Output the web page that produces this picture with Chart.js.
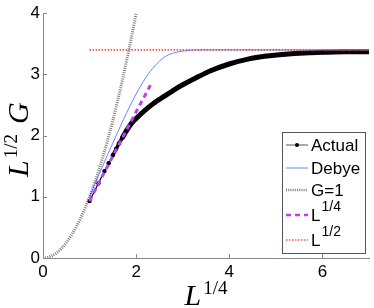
<!DOCTYPE html>
<html>
<head>
<meta charset="utf-8">
<script src="https://cdn.jsdelivr.net/npm/chart.js@4.4.0/dist/chart.umd.min.js"></script>
<style>
  body { margin: 0; background: #fff; }
</style>
</head>
<body>
<canvas id="chart" width="374" height="308"></canvas>
<script>
// values
var actualX = [1.00, 1.19, 1.32, 1.41, 1.50, 1.57, 1.63, 1.70, 1.80, 1.90, 2.00, 2.20, 2.40, 2.60, 2.80, 3.00, 3.30, 3.60, 4.00, 4.40, 4.80, 5.20, 5.60, 6.00, 6.50, 7.00];
var actualY = [0.93, 1.22, 1.42, 1.55, 1.68, 1.78, 1.87, 1.96, 2.09, 2.20, 2.28, 2.42, 2.54, 2.64, 2.74, 2.83, 2.95, 3.06, 3.17, 3.25, 3.30, 3.33, 3.35, 3.36, 3.37, 3.37];

var debyeX = [1.0, 1.2, 1.4, 1.6, 1.8, 2.0, 2.2, 2.4, 2.6, 2.8, 3.0, 3.3, 7.0];
var debyeY = [1.00, 1.36, 1.71, 2.05, 2.38, 2.68, 2.94, 3.14, 3.28, 3.35, 3.38, 3.40, 3.40];

var g1X = [0, 0.1, 0.2, 0.3, 0.4, 0.5, 0.6, 0.7, 0.8, 0.9, 1.0, 1.1, 1.2, 1.3, 1.4, 1.5, 1.6, 1.7, 1.8, 1.9, 2.0];
var g1Y = [0, 0.01, 0.04, 0.09, 0.16, 0.25, 0.36, 0.49, 0.64, 0.81, 1.00, 1.21, 1.44, 1.69, 1.96, 2.25, 2.56, 2.89, 3.24, 3.61, 4.00];

var quarterX = [1.0, 1.2, 1.4, 1.6, 1.8, 2.0, 2.2, 2.31];
var quarterY = [0.93, 1.23, 1.52, 1.81, 2.10, 2.39, 2.67, 2.83];

var halfX = [1.0, 7.0];
var halfY = [3.40, 3.40];

var xTicks = [0, 2, 4, 6];
var yTicks = [0, 1, 2, 3, 4];

var legendNames = [['Actual', ''], ['Debye', ''], ['G=1', ''], ['L', '1/4'], ['L', '1/2']];

function pts(xs, ys) {
    return xs.map(function (x, i) { return { x: x, y: ys[i] }; });
}

var sans = '"Liberation Sans", Arial, sans-serif';
var serif = '"Liberation Serif", "Times New Roman", serif';

// draws a run of text pieces (with superscripts), returns its width
function mathRun(c, parts, x, y, measureOnly) {
    var w = 0;
    parts.forEach(function (p) {
        c.font = p.font;
        w += p.gap || 0;
        if (!measureOnly) c.fillText(p.t, x + w, y + (p.dy || 0));
        w += c.measureText(p.t).width;
    });
    return w;
}

var extras = {
    id: 'extras',
    afterDraw: function (chart) {
        var c = chart.ctx, xs = chart.scales.x, ys = chart.scales.y;
        c.save();

        // inward tick marks
        c.strokeStyle = '#888';
        c.lineWidth = 1;
        c.beginPath();
        xTicks.forEach(function (v) {
            var p = Math.round(xs.getPixelForValue(v)) + 0.5;
            c.moveTo(p, ys.bottom);
            c.lineTo(p, ys.bottom - 4);
        });
        yTicks.forEach(function (v) {
            var p = Math.round(ys.getPixelForValue(v)) + 0.5;
            c.moveTo(xs.left, p);
            c.lineTo(xs.left + 4, p);
        });
        c.stroke();

        // axis titles
        c.fillStyle = '#000';
        c.textBaseline = 'alphabetic';
        var xt = [
            { t: 'L', font: 'italic 30px ' + serif },
            { t: '1/4', font: '19px ' + serif, dy: -11, gap: 2 }
        ];
        var w = mathRun(c, xt, 0, 0, true);
        mathRun(c, xt, (xs.left + xs.right) / 2 - w / 2, 305, false);

        var yt = [
            { t: 'L', font: 'italic 30px ' + serif },
            { t: '1/2', font: '19px ' + serif, dy: -11, gap: 2 },
            { t: 'G', font: 'italic 30px ' + serif, gap: 10 }
        ];
        w = mathRun(c, yt, 0, 0, true);
        c.save();
        c.translate(28, (ys.top + ys.bottom) / 2 + 4);
        c.rotate(-Math.PI / 2);
        mathRun(c, yt, -w / 2, 0, false);
        c.restore();

        // legend box
        var L = 282.5, T = 132.5, R = 365.5, B = 253.5;
        var rows = [145, 168, 190, 215, 240];
        c.fillStyle = '#fff';
        c.fillRect(L, T, R - L, B - T);
        c.strokeStyle = '#555';
        c.lineWidth = 1;
        c.setLineDash([]);
        c.strokeRect(L, T, R - L, B - T);
        chart.data.datasets.forEach(function (ds, i) {
            var y = rows[i];
            c.save();
            c.strokeStyle = ds.legendColor || ds.borderColor;
            c.lineWidth = ds.legendWidth;
            c.setLineDash(ds.borderDash || []);
            c.beginPath();
            c.moveTo(286, y);
            c.lineTo(308, y);
            c.stroke();
            if (ds.pointRadius > 0) {
                c.fillStyle = '#000';
                c.beginPath();
                c.arc(297, y, 2, 0, Math.PI * 2);
                c.fill();
            }
            c.restore();
            c.fillStyle = '#000';
            var nm = legendNames[i];
            mathRun(c, [
                { t: nm[0], font: '17px ' + sans },
                { t: nm[1], font: '14px ' + sans, dy: -10, gap: 1 }
            ], 311, y + 6, false);
        });
        c.restore();
    }
};

new Chart(document.getElementById('chart'), {
    type: 'line',
    data: {
        datasets: [{
            label: 'Actual',
            data: pts(actualX, actualY),
            borderColor: '#000',
            legendColor: '#555',
            borderWidth: 1.2,
            legendWidth: 1,
            pointRadius: 2.2,
            pointBackgroundColor: '#000',
            pointBorderWidth: 0,
            cubicInterpolationMode: 'monotone',
            segment: {
                borderWidth: function (ctx) {
                    var x = ctx.p0.parsed.x;
                    return x < 1.45 ? 1.2 : (x < 1.7 ? 3.5 : 5);
                }
            },
            order: 5
        }, {
            label: 'Debye',
            data: pts(debyeX, debyeY),
            borderColor: '#6a86ff',
            borderWidth: 1,
            legendWidth: 1,
            pointRadius: 0,
            cubicInterpolationMode: 'monotone',
            order: 4
        }, {
            label: 'G=1',
            data: pts(g1X, g1Y),
            borderColor: 'rgba(40,40,40,0.6)',
            borderWidth: 3,
            legendWidth: 2.5,
            borderDash: [1, 1.2],
            pointRadius: 0,
            cubicInterpolationMode: 'monotone',
            order: 3
        }, {
            label: 'L^{1/4}',
            data: pts(quarterX, quarterY),
            borderColor: '#c23cf5',
            borderWidth: 3,
            legendWidth: 2.5,
            borderDash: [5, 4],
            pointRadius: 0,
            order: 2
        }, {
            label: 'L^{1/2}',
            data: pts(halfX, halfY),
            borderColor: 'rgba(255,50,50,0.85)',
            borderWidth: 1.6,
            legendWidth: 1.5,
            borderDash: [1.5, 1.5],
            pointRadius: 0,
            order: 1
        }]
    },
    options: {
        responsive: false,
        animation: false,
        layout: { padding: { top: 12, right: 5, left: 0, bottom: 0 } },
        plugins: {
            legend: { display: false },
            tooltip: { enabled: false }
        },
        scales: {
            x: {
                type: 'linear',
                min: 0,
                max: 7,
                afterBuildTicks: function (s) { s.ticks = xTicks.map(function (v) { return { value: v }; }); },
                afterFit: function (s) { s.height = 50; },
                grid: { drawOnChartArea: false, drawTicks: false },
                border: { color: '#888', width: 1 },
                ticks: { autoSkip: false, maxRotation: 0, padding: 4, color: '#000', font: { family: sans, size: 17 } }
            },
            y: {
                type: 'linear',
                min: 0,
                max: 4,
                afterBuildTicks: function (s) { s.ticks = yTicks.map(function (v) { return { value: v }; }); },
                afterFit: function (s) { s.width = 43; },
                grid: { drawOnChartArea: false, drawTicks: false },
                border: { color: '#888', width: 1 },
                ticks: { autoSkip: false, padding: 3, color: '#000', font: { family: sans, size: 17 } }
            }
        }
    },
    plugins: [extras]
});
</script>
</body>
</html>
